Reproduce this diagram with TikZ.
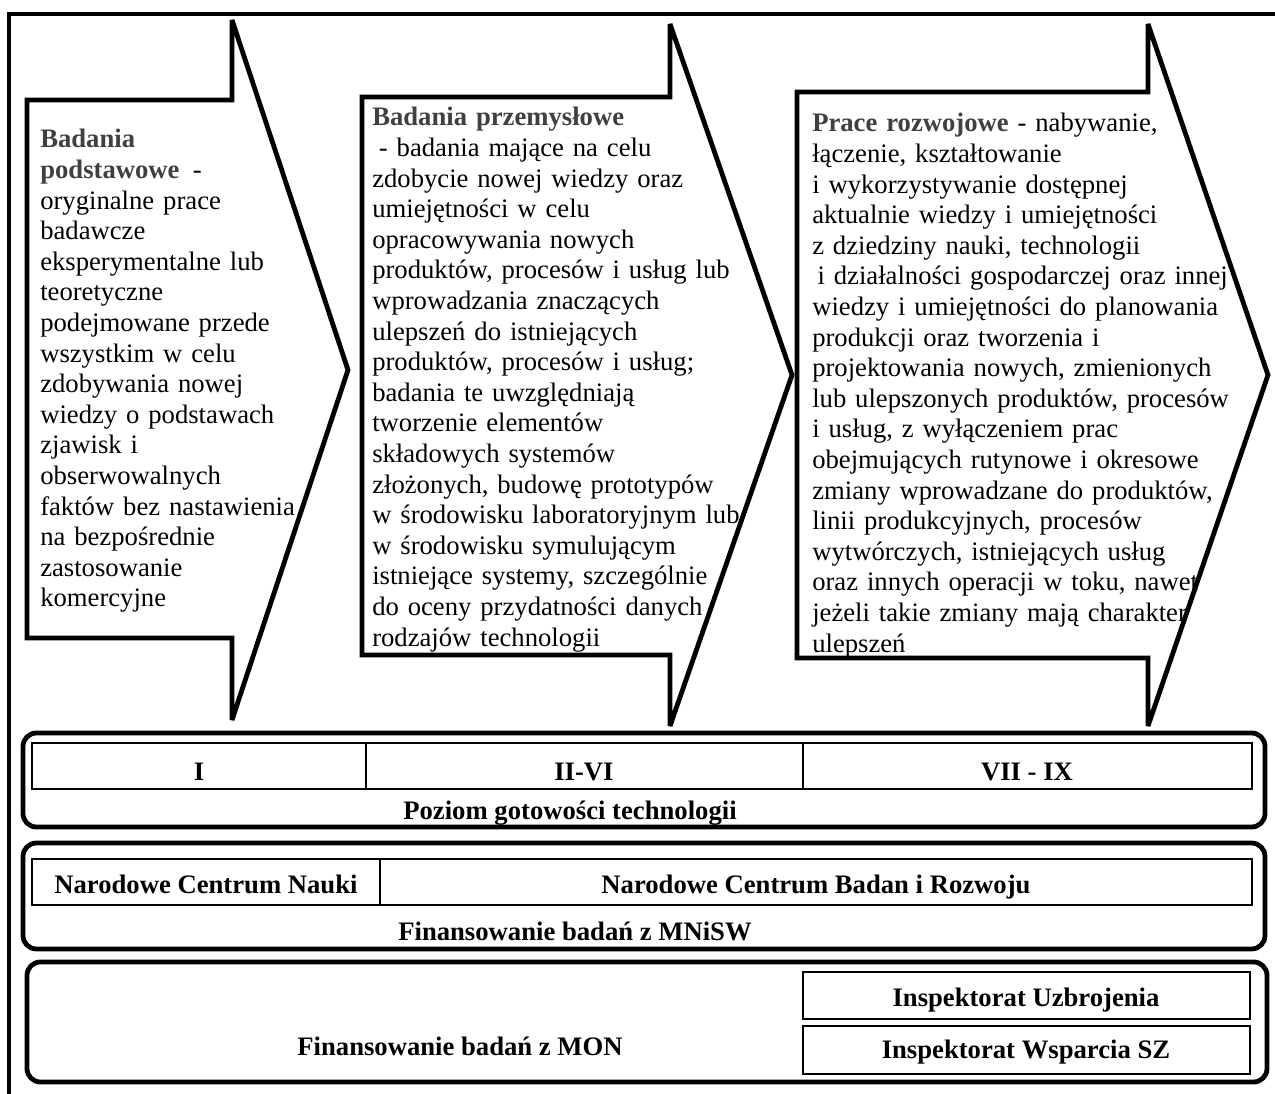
\documentclass[tikz,border=0pt]{standalone}
\usepackage{fontspec}
\setmainfont{Liberation Serif}
\definecolor{headgray}{HTML}{404040}
\newcommand{\hd}[1]{\textcolor{headgray}{\textbf{#1}}}
\begin{document}
\begin{tikzpicture}[x=0.75pt,y=-0.75pt,
  outerframe/.style={line width=3.6pt},
  arrowshape/.style={draw, line width=3.6pt, line join=miter, miter limit=4, fill=white},
  roundbox/.style={draw, line width=3.6pt, rounded corners=10pt},
  tablecell/.style={draw, line width=0.9pt},
  arrowtext/.style={anchor=base west, align=left, inner sep=0pt, text width=330pt,
    font=\fontsize{20}{22.95}\selectfont},
  boxtext/.style={anchor=base, inner sep=0pt, font=\bfseries\fontsize{20}{24}\selectfont}]
\useasboundingbox (0,0) rectangle (1275,1094);
% outer frame (top and left)
\draw[outerframe] (9,1094) -- (9,14) -- (1275,14);
% arrows
\draw[arrowshape] (27,100) -- (232,100) -- (232,20) -- (348,370) -- (232,720) -- (232,638) -- (27,638) -- cycle;
\draw[arrowshape] (362,97) -- (670,97) -- (670,24) -- (792,375) -- (670,726) -- (670,655) -- (362,655) -- cycle;
\draw[arrowshape] (797,92) -- (1148,92) -- (1148,24) -- (1268,375) -- (1148,726) -- (1148,658) -- (797,658) -- cycle;
% arrow texts
\node[arrowtext] (t1) at (40,148) {\hd{Badania}\\
\hd{podstawowe}\hspace{0.5em}-\\
oryginalne prace\\
badawcze\\
eksperymentalne lub\\
teoretyczne\\
podejmowane przede\\
wszystkim w celu\\
zdobywania nowej\\
wiedzy o podstawach\\
zjawisk i\\
obserwowalnych\\
faktów bez nastawienia\\
na bezpośrednie\\
zastosowanie\\
komercyjne};
\node[arrowtext] (t2) at (372,126) {\hd{Badania przemysłowe}\\
\hspace*{5pt}- badania mające na celu\\
zdobycie nowej wiedzy oraz\\
umiejętności w celu\\
opracowywania nowych\\
produktów, procesów i usług lub\\
wprowadzania znaczących\\
ulepszeń do istniejących\\
produktów, procesów i usług;\\
badania te uwzględniają\\
tworzenie elementów\\
składowych systemów\\
złożonych, budowę prototypów\\
w środowisku laboratoryjnym lub\\
w środowisku symulującym\\
istniejące systemy, szczególnie\\
do oceny przydatności danych\\
rodzajów technologii};
\node[arrowtext] (t3) at (812,132) {\hd{Prace rozwojowe} - nabywanie,\\
łączenie, kształtowanie\\
i wykorzystywanie dostępnej\\
aktualnie wiedzy i umiejętności\\
z dziedziny nauki, technologii\\
\hspace*{4pt}i działalności gospodarczej oraz innej\\
wiedzy i umiejętności do planowania\\
produkcji oraz tworzenia i\\
projektowania nowych, zmienionych\\
lub ulepszonych produktów, procesów\\
i usług, z wyłączeniem prac\\
obejmujących rutynowe i okresowe\\
zmiany wprowadzane do produktów,\\
linii produkcyjnych, procesów\\
wytwórczych, istniejących usług\\
oraz innych operacji w toku, nawet\\
jeżeli takie zmiany mają charakter\\
ulepszeń};
% box 1: technology readiness level
\draw[roundbox] (23,733) rectangle (1265,827);
\draw[tablecell] (32,743) rectangle (366,789);
\draw[tablecell] (366,743) rectangle (803,789);
\draw[tablecell] (803,743) rectangle (1252,789);
\node[boxtext] (trl1) at (199,780) {I};
\node[boxtext] (trl2) at (584,780) {II-VI};
\node[boxtext] (trl3) at (1027,780) {VII - IX};
\node[boxtext] (trl) at (570,819) {Poziom gotowości technologii};
% box 2: MNiSW
\draw[roundbox] (23,843) rectangle (1265,949);
\draw[tablecell] (32,859) rectangle (380,905);
\draw[tablecell] (380,859) rectangle (1252,905);
\node[boxtext] (ncn) at (206,893) {Narodowe Centrum Nauki};
\node[boxtext] (ncbr) at (816,893) {Narodowe Centrum Badan i Rozwoju};
\node[boxtext] (mnisw) at (575,940) {Finansowanie badań z MNiSW};
% box 3: MON
\draw[roundbox] (27,962) rectangle (1267,1082);
\draw[tablecell] (803,972) rectangle (1250,1019);
\draw[tablecell] (803,1026) rectangle (1250,1074);
\node[boxtext] (iu) at (1026,1006) {Inspektorat Uzbrojenia};
\node[boxtext] (iw) at (1026,1058) {Inspektorat Wsparcia SZ};
\node[boxtext] (mon) at (460,1055) {Finansowanie badań z MON};
\end{tikzpicture}
\end{document}
